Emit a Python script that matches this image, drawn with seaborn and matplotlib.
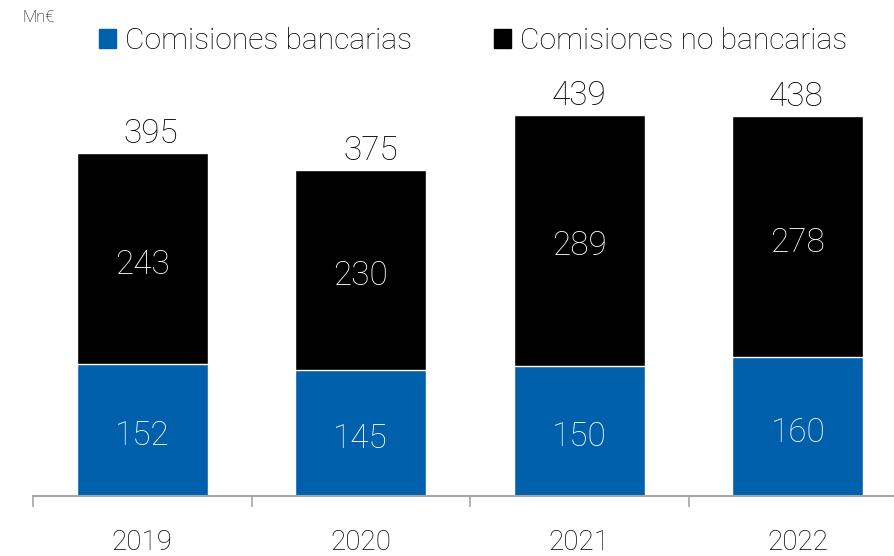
import matplotlib
matplotlib.use('Agg')
import matplotlib.pyplot as plt
import seaborn as sns
import pandas as pd
from matplotlib.patches import Patch
from matplotlib.ticker import FixedLocator

# ------------------------------------------------------- #
#                          DATOS                          #
# ------------------------------------------------------- #
anios = ['2019', '2020', '2021', '2022']
bancarias = [152, 145, 150, 160]
no_bancarias = [243, 230, 289, 278]
totales = [b + n for b, n in zip(bancarias, no_bancarias)]

df = pd.DataFrame({'anio': anios, 'bancarias': bancarias,
                   'no_bancarias': no_bancarias, 'total': totales})

azul = '#0060AB'
negro = '#000000'
texto = '#000000'

# ligero desplazamiento horizontal (pt) de las etiquetas de total
desplaz_total = [6, 7, 0, -1]

sns.set_theme(style='white')
plt.rcParams['font.family'] = ['Roboto', 'DejaVu Sans']
plt.rcParams['font.weight'] = 'light'
plt.rcParams['text.color'] = texto

fig = plt.figure(figsize=(8.94, 5.56), dpi=100)
ax = fig.add_axes([33 / 894, 60 / 556, 1 - 33 / 894, 496 / 556])

# ------------------------------------------------------- #
#                     BARRAS APILADAS                     #
# ------------------------------------------------------- #
sns.barplot(data=df, x='anio', y='total', color=negro, width=0.6,
            saturation=1, ax=ax)
sns.barplot(data=df, x='anio', y='bancarias', color=azul, width=0.6,
            saturation=1, ax=ax)

for i in range(len(anios)):
    ax.annotate(str(bancarias[i]), (i, bancarias[i] / 2), xytext=(0, -4.5),
                textcoords='offset points', ha='center', va='center',
                color='white', fontsize=24)
    ax.annotate(str(no_bancarias[i]), (i, bancarias[i] + no_bancarias[i] / 2),
                xytext=(0, -4.5), textcoords='offset points', ha='center',
                va='center', color='white', fontsize=24)
    ax.annotate(str(totales[i]), (i, totales[i]), xytext=(desplaz_total[i], 2),
                textcoords='offset points', ha='center', va='bottom',
                color=texto, fontsize=24)

ax.set_xlim(-0.5, 3.44)
ax.set_ylim(0, 571)
ax.set_xlabel('')
ax.set_ylabel('')
ax.set_yticks([])

for s in ['top', 'right', 'left']:
    ax.spines[s].set_visible(False)
ax.spines['bottom'].set_color('#A6A6A6')
ax.spines['bottom'].set_linewidth(1.5)

ax.xaxis.set_minor_locator(FixedLocator([-0.5, 0.5, 1.5, 2.5, 3.5]))
ax.tick_params(axis='x', which='major', length=0, pad=24)
ax.tick_params(axis='x', which='minor', length=8, width=1.2,
               color='#A6A6A6', bottom=True)
for lbl in ax.get_xticklabels():
    lbl.set_fontsize(20)
    lbl.set_color(texto)
    lbl.set_fontweight('light')

# ------------------------------------------------------- #
#                         LEYENDA                         #
# ------------------------------------------------------- #
handles = [Patch(color=azul, label='Comisiones bancarias'),
           Patch(color=negro, label='Comisiones no bancarias')]
fig.legend(handles=handles, loc='center left', bbox_to_anchor=(99 / 894, 1 - 41 / 556),
           ncol=2, frameon=False, fontsize=21.6, handlelength=0.56,
           handleheight=0.56, handletextpad=0.3, columnspacing=2.75,
           borderaxespad=0, borderpad=0)

fig.text(22 / 894, 1 - 18 / 556, 'Mn€', fontsize=12, va='center',
         ha='left', color=texto)

plt.savefig('out.png', dpi=100)
